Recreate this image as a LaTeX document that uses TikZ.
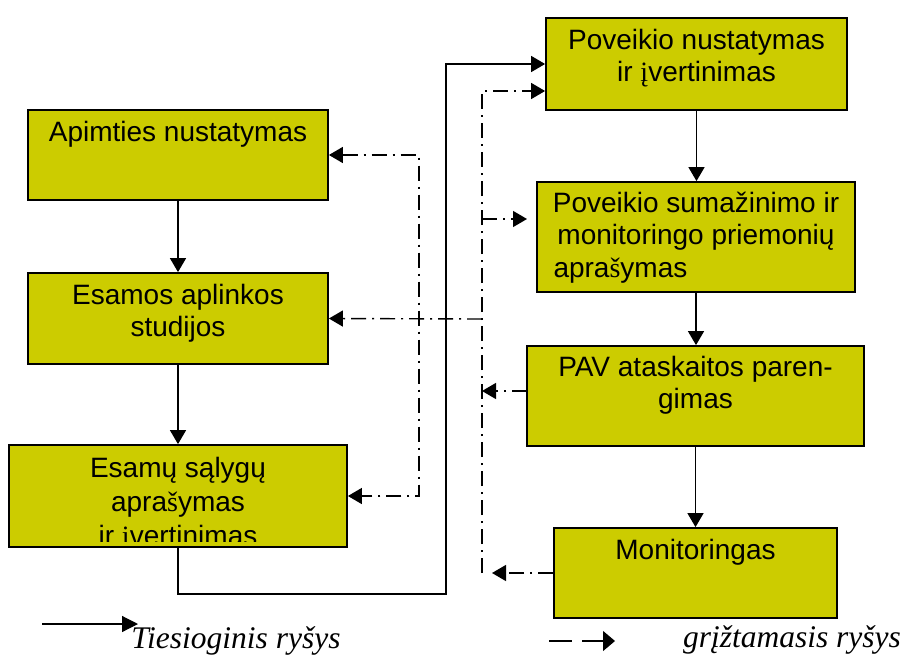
\documentclass[tikz,border=0pt]{standalone}
\usepackage{fontspec}
\setmainfont{Liberation Serif}
\newfontfamily\arialf{Liberation Sans}
\usetikzlibrary{arrows.meta}
\definecolor{boxfill}{RGB}{204,204,0}
\newcommand\srf[1]{{\rmfamily #1}}
\newcommand\fl{\rule{0pt}{27pt}}
\begin{document}
\begin{tikzpicture}[x=1pt,y=-1pt,
  box/.style={draw=black, line width=1.8pt, fill=boxfill, inner sep=0pt, rectangle},
  txt/.style={font=\arialf\fontsize{28}{32.5}\selectfont, align=center, inner sep=0pt, anchor=north},
  flow/.style={line width=1.4pt, -{Triangle[length=14pt,width=16pt]}},
  fb/.style={line width=1.4pt, dash pattern=on 15pt off 6pt on 2pt off 6pt},
  tipend/.style={-{Triangle[length=14pt,width=16pt]}},
  tipboth/.style={{Triangle[length=14pt,width=16pt]}-{Triangle[length=14pt,width=16pt]}},
  legtxt/.style={font=\itshape\fontsize{31.5}{35}\selectfont, inner sep=0pt, anchor=base}
]
\useasboundingbox (0,0) rectangle (904,655);

% boxes
\node[box, minimum width=300, minimum height=90] (A) at (178,155) {};
\node[box, minimum width=300, minimum height=91] (B) at (178,318.5) {};
\node[box, minimum width=338, minimum height=102] (C) at (178,496) {};
\node[box, minimum width=301, minimum height=92] (D) at (696.5,64) {};
\node[box, minimum width=318, minimum height=110] (E) at (696,237) {};
\node[box, minimum width=337, minimum height=100] (F) at (695.5,396) {};
\node[box, minimum width=283, minimum height=90] (G) at (695.5,573) {};

% texts
\node[txt] (At) at ([yshift=-5pt]A.north) {\fl Apimties nustatymas};
\node[txt] (Bt) at ([yshift=-5pt]B.north) {\fl Esamos aplinkos\\studijos};
\begin{scope}
\clip (13,449) rectangle (343,541);
\node[txt, font=\arialf\fontsize{28}{34}\selectfont] (Ct) at ([yshift=-6pt]C.north) {\fl Esamų sąlygų\\apra\srf{š}ymas\\ir \srf{į}vertinimas};
\end{scope}
\node[txt] (Dt) at ([yshift=-5pt]D.north) {\fl Poveikio nustatymas\\ir \srf{į}vertinimas};
\node[txt] (Et) at ([yshift=-4pt]E.north) {\fl Poveikio sumažinimo ir\\monitoringo priemonių\\\makebox[285pt][l]{apra\srf{š}ymas}};
\node[txt] (Ft) at ([yshift=-4pt]F.north) {\fl PAV ataskaitos paren-\\gimas};
\node[txt] (Gt) at ([yshift=-5pt]G.north) {\fl Monitoringas};

% solid flow
\draw[flow] (A.south) -- (B.north);
\draw[flow] (B.south) -- (C.north);
\draw[flow] (D.south) -- (D.south |- E.north);
\draw[flow] (E.south) -- (E.south |- F.north);
\draw[flow] (F.south) -- (F.south |- G.north);
\coordinate (c1) at (446,594);
\draw[flow] (C.south) |- (c1) |- (D.west);

% feedback (dash-dot)
\coordinate (r1) at (482,91);
\coordinate (r2) at (482,219);
\coordinate (r3) at (482,391);
\coordinate (r4) at (482,573);
\coordinate (rB) at (482,319);
\coordinate (eIn) at (527,219);
\coordinate (fOut) at (527,391);
\coordinate (gTip) at (492,573);
\coordinate (l1) at (419,155);
\coordinate (l2) at (419,496);

\draw[fb, tipend] (r4) -- (r1) -- (r1 -| D.west);
\draw[fb, tipend] (r2) -- (eIn);
\draw[fb, tipend] (fOut) -- (r3);
\draw[fb, tipend] (G.west) -- (gTip);
\draw[fb, tipend] (rB) -- (B.east);
\draw[fb, tipboth] (A.east) -- (l1) -- (l2) -- (C.east);

% legend
\coordinate (s1) at (42,624);
\coordinate (s2) at (138,624);
\draw[line width=1.2pt, -{Triangle[length=16pt,width=16pt]}] (s1) -- (s2);
\node[legtxt] (Lt) at (236,648) {Tiesioginis ryšys};

\coordinate (d1) at (549,641);
\coordinate (d2) at (615,641);
\draw[line width=1.2pt, dash pattern=on 23pt off 10pt, -{Triangle[length=12pt,width=20pt]}] (d1) -- (d2);
\node[legtxt] (Lg) at (792,647) {grįžtamasis ryšys};
\end{tikzpicture}
\end{document}
